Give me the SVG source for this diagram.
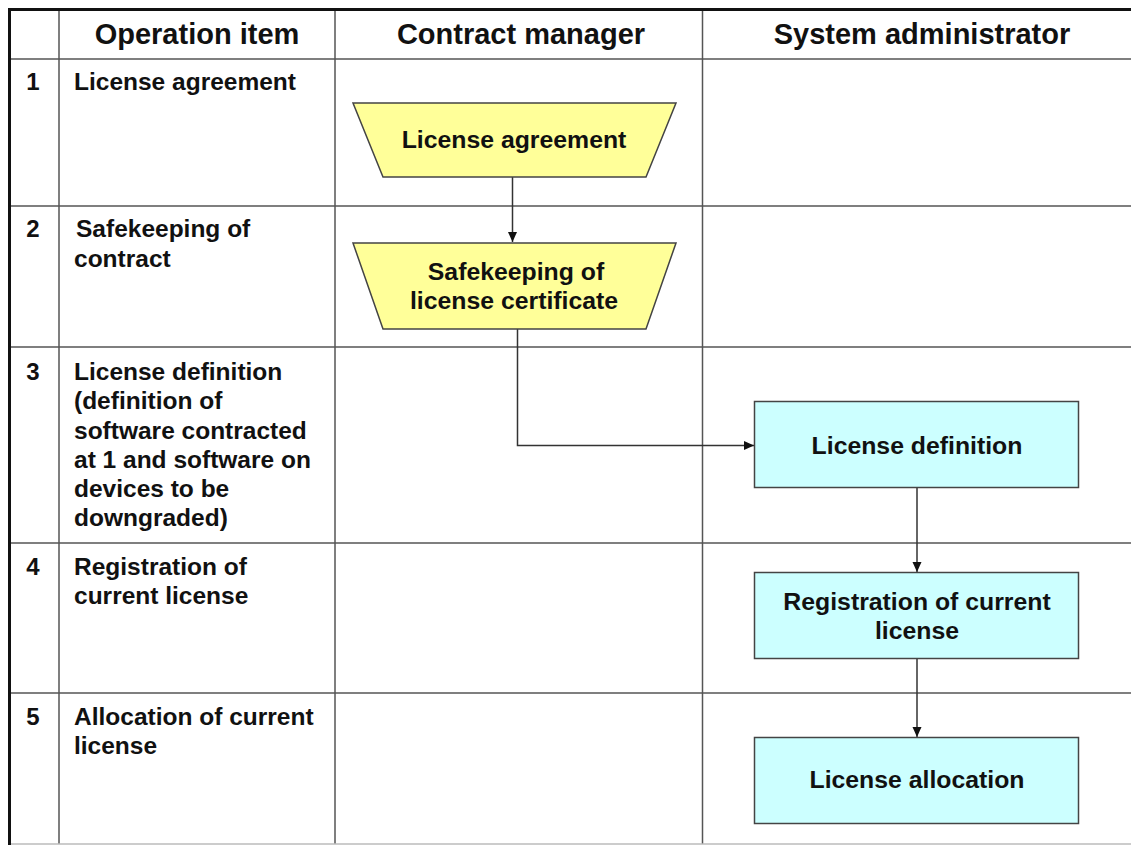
<svg xmlns="http://www.w3.org/2000/svg" width="1131" height="845" viewBox="0 0 1131 845">
<style>
text{font-family:"Liberation Sans",Arial,sans-serif;font-weight:bold;fill:#111}
.hd{font-size:29px;text-anchor:middle}
.num{font-size:24px;text-anchor:middle}
.it{font-size:24.5px}
.nd{font-size:24.8px;text-anchor:middle}
.grid{stroke:#555;stroke-width:1.5;fill:none}
.outer{stroke:#111;stroke-width:3;fill:none}
.trap{fill:#ffff99;stroke:#444;stroke-width:1.5}
.box{fill:#ccffff;stroke:#444;stroke-width:1.5}
.conn{stroke:#333;stroke-width:1.5;fill:none}
</style>
<defs>
<marker id="ah" viewBox="0 0 10 10" refX="10" refY="5" markerWidth="10" markerHeight="10" markerUnits="userSpaceOnUse" orient="auto"><path d="M0,0.5 L10,5 L0,9.5 z" fill="#111"/></marker>
</defs>
<rect width="1131" height="845" fill="#fff"/>
<g id="table">
<line class="grid" x1="59" y1="9" x2="59" y2="844"/>
<line class="grid" x1="335" y1="9" x2="335" y2="844"/>
<line class="grid" x1="702.5" y1="9" x2="702.5" y2="844"/>
<line class="grid" x1="9" y1="59" x2="1131" y2="59"/>
<line class="grid" x1="9" y1="206" x2="1131" y2="206"/>
<line class="grid" x1="9" y1="347" x2="1131" y2="347"/>
<line class="grid" x1="9" y1="543" x2="1131" y2="543"/>
<line class="grid" x1="9" y1="693" x2="1131" y2="693"/>
<line x1="9" y1="844" x2="1131" y2="844" stroke="#bbb" stroke-width="1.5"/>
<line class="outer" x1="9.5" y1="9.5" x2="1131" y2="9.5"/>
<line class="outer" x1="9.5" y1="8" x2="9.5" y2="845"/>
</g>
<g id="headers">
<text class="hd" x="197" y="44">Operation item</text>
<text class="hd" x="521" y="44">Contract manager</text>
<text class="hd" x="922" y="44">System administrator</text>
</g>
<g id="row1"><text class="num" x="33" y="90">1</text><text class="it" x="74" y="90">License agreement</text></g>
<g id="row2"><text class="num" x="33" y="237">2</text><text class="it" x="76" y="237">Safekeeping of</text><text class="it" x="74" y="267">contract</text></g>
<g id="row3"><text class="num" x="33" y="380">3</text>
<text class="it" x="74" y="380">License definition</text>
<text class="it" x="74" y="409">(definition of</text>
<text class="it" x="74" y="439">software contracted</text>
<text class="it" x="74" y="468">at 1 and software on</text>
<text class="it" x="74" y="497">devices to be</text>
<text class="it" x="74" y="526">downgraded)</text></g>
<g id="row4"><text class="num" x="33" y="575">4</text><text class="it" x="74" y="575">Registration of</text><text class="it" x="74" y="604">current license</text></g>
<g id="row5"><text class="num" x="33" y="725">5</text><text class="it" x="74" y="725">Allocation of current</text><text class="it" x="74" y="754">license</text></g>
<g id="connectors">
<line class="conn" x1="512.5" y1="177" x2="512.5" y2="242" marker-end="url(#ah)"/>
<polyline class="conn" points="517.5,329 517.5,445.5 754,445.5" marker-end="url(#ah)"/>
<line class="conn" x1="917" y1="488" x2="917" y2="572" marker-end="url(#ah)"/>
<line class="conn" x1="917" y1="659" x2="917" y2="737" marker-end="url(#ah)"/>
</g>
<g id="n1"><polygon class="trap" points="353,103 676,103 646,177 383,177"/><text class="nd" x="514" y="148">License agreement</text></g>
<g id="n2"><polygon class="trap" points="353,243 676,243 646,329 383,329"/><text class="nd" x="516" y="280">Safekeeping of</text><text class="nd" x="514" y="309">license certificate</text></g>
<g id="n3"><rect class="box" x="754.5" y="401.5" width="324" height="86"/><text class="nd" x="917" y="454">License definition</text></g>
<g id="n4"><rect class="box" x="754.5" y="572.5" width="324" height="86"/><text class="nd" x="917" y="610">Registration of current</text><text class="nd" x="917" y="639">license</text></g>
<g id="n5"><rect class="box" x="754.5" y="737.5" width="324" height="86"/><text class="nd" x="917" y="788">License allocation</text></g>
</svg>
